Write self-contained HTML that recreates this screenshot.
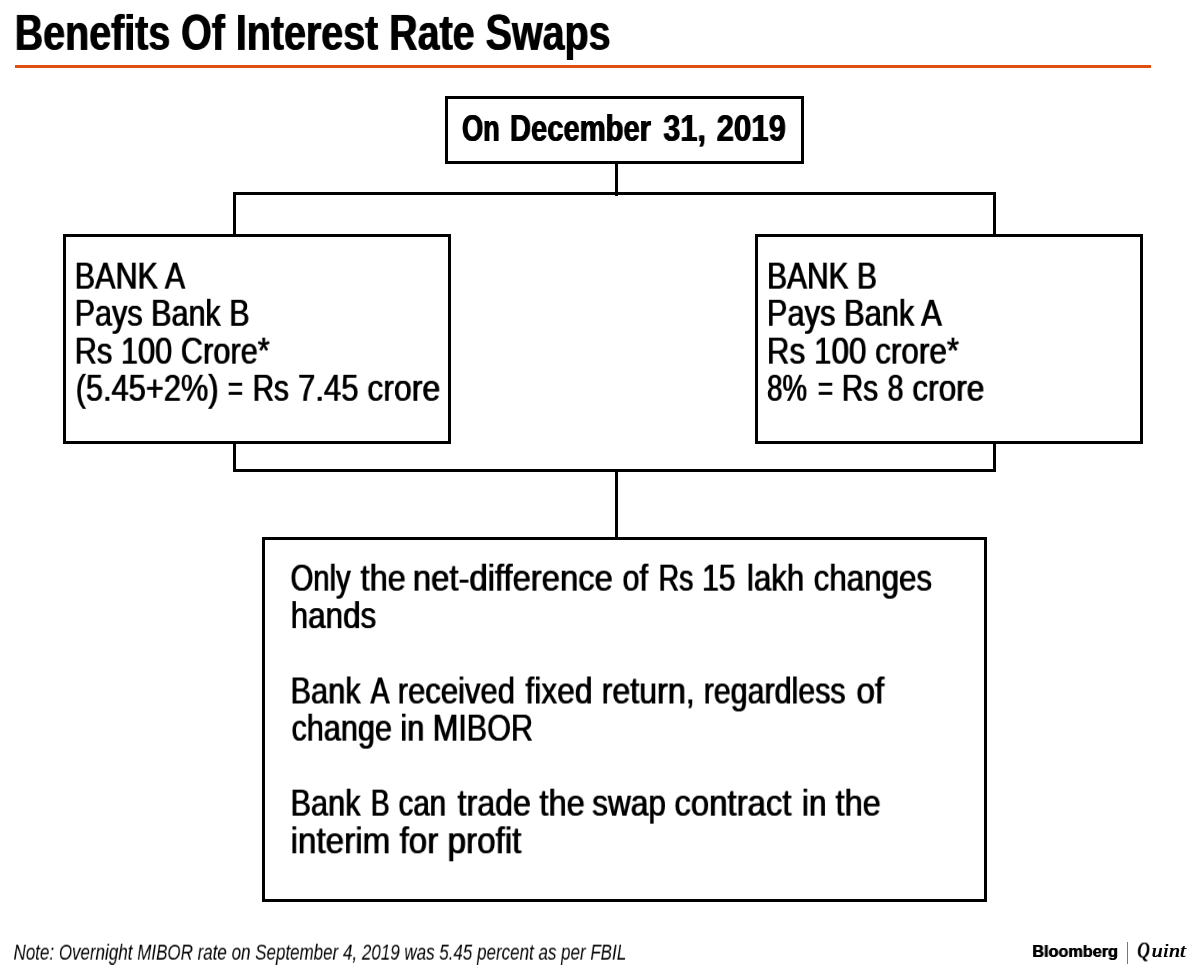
<!DOCTYPE html>
<html lang="en">
<head>
<meta charset="utf-8">
<title>Benefits Of Interest Rate Swaps</title>
<style>
html,body{margin:0;padding:0;background:#fff;}
body{position:relative;width:1200px;height:973px;overflow:hidden;font-family:"Liberation Sans",sans-serif;color:#000;}
h1,p{margin:0;font-weight:400;}
.ln{position:absolute;left:0;top:0;will-change:transform;white-space:nowrap;line-height:1;transform-origin:0 0;font-weight:400;font-family:"Liberation Sans",sans-serif;}
.b{font-weight:700;}
.i{font-style:italic;}
.q{font-family:"Liberation Serif",serif;font-style:italic;}
.rule{position:absolute;left:14.6px;top:65.4px;width:1136.1px;height:3px;background:#dd5012;}
.box{position:absolute;box-sizing:border-box;border:3px solid #000;background:transparent;}
.wire{position:absolute;background:#000;}
.logo{position:absolute;left:0;top:0;width:0;height:0;}
.bar{position:absolute;left:1126.9px;top:942px;width:1.6px;height:21.6px;background:#777;}
</style>
</head>
<body>
<header>
<h1 id="t0" class="ln b" style="font-size:49.50px;transform:translate(14.23px,7.90px) scaleX(0.7962);text-shadow:1.256px 0 0 currentColor;">Benefits Of Interest Rate Swaps</h1>
<div class="rule"></div>
</header>
<main>
<div class="wire" style="left:615px;top:164px;width:3px;height:32px"></div>
<div class="wire" style="left:233px;top:192px;width:763px;height:3px"></div>
<div class="wire" style="left:233px;top:192px;width:3px;height:43px"></div>
<div class="wire" style="left:993px;top:192px;width:3px;height:43px"></div>
<div class="wire" style="left:233px;top:444px;width:3px;height:28px"></div>
<div class="wire" style="left:993px;top:444px;width:3px;height:28px"></div>
<div class="wire" style="left:233px;top:469px;width:763px;height:3px"></div>
<div class="wire" style="left:615px;top:469px;width:3px;height:69px"></div>
<section class="box" id="boxtop" style="left:445px;top:96px;width:359px;height:68px">
<div class="row" id="t1">
<span id="t1_0" class="ln b" style="font-size:37.70px;transform:translate(13.50px,10.97px) scaleX(0.7211);text-shadow:1.387px 0 0 currentColor;">On</span>
<span id="t1_1" class="ln b" style="font-size:37.70px;transform:translate(61.43px,10.97px) scaleX(0.7742);text-shadow:1.292px 0 0 currentColor;">December</span>
<span id="t1_2" class="ln b" style="font-size:37.70px;transform:translate(214.74px,10.97px) scaleX(0.8148);text-shadow:1.227px 0 0 currentColor;">31,</span>
<span id="t1_3" class="ln b" style="font-size:37.70px;transform:translate(268.04px,10.97px) scaleX(0.8273);text-shadow:1.209px 0 0 currentColor;">2019</span>
</div>
</section>
<section class="box" id="boxA" style="left:63px;top:234px;width:388px;height:210px">
<div id="a1" class="ln r" style="font-size:37.50px;transform:translate(8.25px,20.66px) scaleX(0.8154);text-shadow:1.104px 0 0 currentColor;">BANK A</div>
<div id="a2" class="ln r" style="font-size:37.50px;transform:translate(8.25px,57.80px) scaleX(0.8145);text-shadow:1.105px 0 0 currentColor;">Pays Bank B</div>
<div id="a3" class="ln r" style="font-size:37.50px;transform:translate(8.24px,95.66px) scaleX(0.8209);text-shadow:1.096px 0 0 currentColor;">Rs 100 Crore*</div>
<div class="row" id="a4">
<span id="a4_0" class="ln r" style="font-size:37.50px;transform:translate(9.22px,132.80px) scaleX(0.8210);text-shadow:1.096px 0 0 currentColor;">(5.45+2%)</span>
<span id="a4_1" class="ln r" style="font-size:37.50px;transform:translate(161.29px,132.80px) scaleX(0.6969);text-shadow:1.292px 0 0 currentColor;">=</span>
<span id="a4_2" class="ln r" style="font-size:37.50px;transform:translate(186.15px,132.80px) scaleX(0.7908);text-shadow:1.138px 0 0 currentColor;">Rs</span>
<span id="a4_3" class="ln r" style="font-size:37.50px;transform:translate(231.63px,132.80px) scaleX(0.8280);text-shadow:1.087px 0 0 currentColor;">7.45</span>
<span id="a4_4" class="ln r" style="font-size:37.50px;transform:translate(300.85px,132.80px) scaleX(0.8532);text-shadow:1.055px 0 0 currentColor;">crore</span>
</div>
</section>
<section class="box" id="boxB" style="left:755px;top:234px;width:388px;height:210px">
<div id="b1" class="ln r" style="font-size:37.50px;transform:translate(8.49px,20.66px) scaleX(0.7998);text-shadow:1.125px 0 0 currentColor;">BANK B</div>
<div id="b2" class="ln r" style="font-size:37.50px;transform:translate(8.42px,57.80px) scaleX(0.8226);text-shadow:1.094px 0 0 currentColor;">Pays Bank A</div>
<div id="b3" class="ln r" style="font-size:37.50px;transform:translate(8.38px,95.66px) scaleX(0.8383);text-shadow:1.074px 0 0 currentColor;">Rs 100 crore*</div>
<div class="row" id="b4">
<span id="b4_0" class="ln r" style="font-size:37.50px;transform:translate(8.61px,132.80px) scaleX(0.7377);text-shadow:1.220px 0 0 currentColor;">8%</span>
<span id="b4_1" class="ln r" style="font-size:37.50px;transform:translate(59.27px,132.80px) scaleX(0.7068);text-shadow:1.273px 0 0 currentColor;">=</span>
<span id="b4_2" class="ln r" style="font-size:37.50px;transform:translate(83.29px,132.80px) scaleX(0.7927);text-shadow:1.135px 0 0 currentColor;">Rs</span>
<span id="b4_3" class="ln r" style="font-size:37.50px;transform:translate(129.09px,132.80px) scaleX(0.7626);text-shadow:1.180px 0 0 currentColor;">8</span>
<span id="b4_4" class="ln r" style="font-size:37.50px;transform:translate(153.86px,132.80px) scaleX(0.8424);text-shadow:1.068px 0 0 currentColor;">crore</span>
</div>
</section>
<section class="box" id="boxC" style="left:262px;top:537px;width:725px;height:365px">
<div class="row" id="c1">
<span id="c1_0" class="ln r" style="font-size:37.50px;transform:translate(25.08px,19.66px) scaleX(0.7800);text-shadow:1.154px 0 0 currentColor;">Only</span>
<span id="c1_1" class="ln r" style="font-size:37.50px;transform:translate(95.09px,19.66px) scaleX(0.8679);text-shadow:1.037px 0 0 currentColor;">the</span>
<span id="c1_2" class="ln r" style="font-size:37.50px;transform:translate(147.40px,19.66px) scaleX(0.8749);text-shadow:1.029px 0 0 currentColor;">net-difference</span>
<span id="c1_3" class="ln r" style="font-size:37.50px;transform:translate(357.06px,19.66px) scaleX(0.8167);text-shadow:1.102px 0 0 currentColor;">of</span>
<span id="c1_4" class="ln r" style="font-size:37.50px;transform:translate(393.10px,19.66px) scaleX(0.7611);text-shadow:1.183px 0 0 currentColor;">Rs</span>
<span id="c1_5" class="ln r" style="font-size:37.50px;transform:translate(436.62px,19.66px) scaleX(0.7996);text-shadow:1.126px 0 0 currentColor;">15</span>
<span id="c1_6" class="ln r" style="font-size:37.50px;transform:translate(481.52px,19.66px) scaleX(0.8318);text-shadow:1.082px 0 0 currentColor;">lakh</span>
<span id="c1_7" class="ln r" style="font-size:37.50px;transform:translate(548.18px,19.66px) scaleX(0.8355);text-shadow:1.077px 0 0 currentColor;">changes</span>
</div>
<div id="c2" class="ln r" style="font-size:37.50px;transform:translate(25.21px,57.08px) scaleX(0.8369);text-shadow:1.075px 0 0 currentColor;">hands</div>
<div class="row" id="c3">
<span id="c3_0" class="ln r" style="font-size:37.50px;transform:translate(25.06px,132.44px) scaleX(0.8213);text-shadow:1.096px 0 0 currentColor;">Bank</span>
<span id="c3_1" class="ln r" style="font-size:37.50px;transform:translate(105.00px,132.44px) scaleX(0.7598);text-shadow:1.184px 0 0 currentColor;">A</span>
<span id="c3_2" class="ln r" style="font-size:37.50px;transform:translate(132.27px,132.44px) scaleX(0.8268);text-shadow:1.089px 0 0 currentColor;">received</span>
<span id="c3_3" class="ln r" style="font-size:37.50px;transform:translate(259.96px,132.44px) scaleX(0.8473);text-shadow:1.062px 0 0 currentColor;">fixed</span>
<span id="c3_4" class="ln r" style="font-size:37.50px;transform:translate(336.16px,132.44px) scaleX(0.8589);text-shadow:1.048px 0 0 currentColor;">return,</span>
<span id="c3_5" class="ln r" style="font-size:37.50px;transform:translate(438.24px,132.44px) scaleX(0.8101);text-shadow:1.111px 0 0 currentColor;">regardless</span>
<span id="c3_6" class="ln r" style="font-size:37.50px;transform:translate(590.90px,132.44px) scaleX(0.8925);text-shadow:1.008px 0 0 currentColor;">of</span>
</div>
<div id="c4" class="ln r" style="font-size:37.50px;transform:translate(26.06px,169.66px) scaleX(0.8161);text-shadow:1.103px 0 0 currentColor;">change in MIBOR</div>
<div class="row" id="c5">
<span id="c5_0" class="ln r" style="font-size:37.50px;transform:translate(25.06px,244.66px) scaleX(0.8196);text-shadow:1.098px 0 0 currentColor;">Bank</span>
<span id="c5_1" class="ln r" style="font-size:37.50px;transform:translate(105.25px,244.66px) scaleX(0.7580);text-shadow:1.187px 0 0 currentColor;">B</span>
<span id="c5_2" class="ln r" style="font-size:37.50px;transform:translate(133.07px,244.66px) scaleX(0.7866);text-shadow:1.144px 0 0 currentColor;">can</span>
<span id="c5_3" class="ln r" style="font-size:37.50px;transform:translate(192.09px,244.66px) scaleX(0.8582);text-shadow:1.049px 0 0 currentColor;">trade</span>
<span id="c5_4" class="ln r" style="font-size:37.50px;transform:translate(273.95px,244.66px) scaleX(0.8712);text-shadow:1.033px 0 0 currentColor;">the</span>
<span id="c5_5" class="ln r" style="font-size:37.50px;transform:translate(326.71px,244.66px) scaleX(0.8424);text-shadow:1.068px 0 0 currentColor;">swap</span>
<span id="c5_6" class="ln r" style="font-size:37.50px;transform:translate(408.91px,244.66px) scaleX(0.8779);text-shadow:1.025px 0 0 currentColor;">contract</span>
<span id="c5_7" class="ln r" style="font-size:37.50px;transform:translate(536.49px,244.66px) scaleX(0.8397);text-shadow:1.072px 0 0 currentColor;">in</span>
<span id="c5_8" class="ln r" style="font-size:37.50px;transform:translate(570.09px,244.66px) scaleX(0.8679);text-shadow:1.037px 0 0 currentColor;">the</span>
</div>
<div id="c6" class="ln r" style="font-size:37.50px;transform:translate(25.12px,282.30px) scaleX(0.8862);text-shadow:1.016px 0 0 currentColor;">interim for profit</div>
</section>
</main>
<footer>
<p id="n1" class="ln i" style="font-size:22.00px;transform:translate(13.50px,941.63px) scaleX(0.7720);">Note: Overnight MIBOR rate on September 4, 2019 was 5.45 percent as per FBIL</p>
<div class="logo">
<span id="l1" class="ln b" style="font-size:17.00px;transform:translate(1031.98px,942.99px) scaleX(0.9547);text-shadow:0.733px 0 0 currentColor;">Bloomberg</span>
<span class="bar"></span>
<span class="quint"><span id="l2" class="ln q" style="font-size:23.70px;transform:translate(1136.92px,938.60px) scaleX(0.6911);text-shadow:1.592px 0 0 currentColor;">Q</span><span id="l3" class="ln q" style="font-size:18.10px;transform:translate(1151.31px,942.44px) scaleX(1.2241);text-shadow:0.490px 0 0 currentColor;">uint</span></span>
</div>
</footer>
</body>
</html>
